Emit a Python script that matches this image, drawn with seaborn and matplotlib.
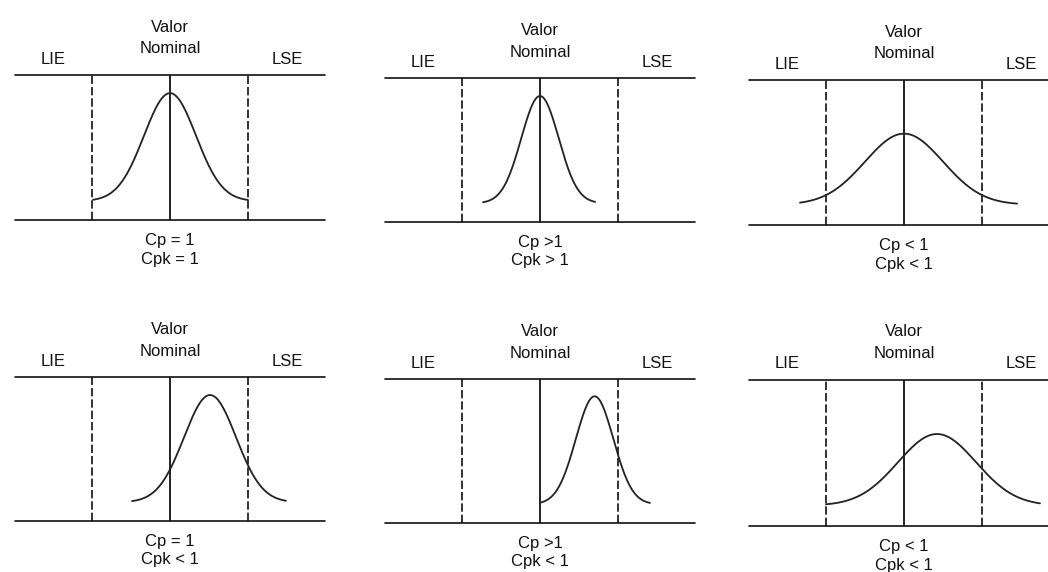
import numpy as np
import matplotlib.pyplot as plt
import seaborn as sns

# -----------------------------
# Data (x in sigma-like units, nominal = 0, y: 0 = bottom line, 1 = top line)
# -----------------------------
cp_labels = ["Cp = 1", "Cp >1", "Cp < 1", "Cp = 1", "Cp >1", "Cp < 1"]
cpk_labels = ["Cpk = 1", "Cpk > 1", "Cpk < 1", "Cpk < 1", "Cpk < 1", "Cpk < 1"]
means = [0.0, 0.0, 0.0, 1.54, 2.1, 1.27]
sigmas = [1.0, 0.72, 1.5, 1.0, 0.72, 1.5]
peaks = [0.875, 0.875, 0.63, 0.875, 0.88, 0.63]
tails = [0.13, 0.13, 0.14, 0.13, 0.13, 0.14]
curve_start = [-2.96, -2.19, -4.0, -1.46, 0.0, -3.0]
curve_end = [3.0, 2.12, 4.35, 4.46, 4.23, 5.23]
lie, lse, nominal = -3.0, 3.0, 0.0

# -----------------------------
# Layout (pixels on a 1048 x 572 canvas)
# -----------------------------
W, H = 1048, 572
nominal_px = [170, 540, 904, 170, 540, 904]
top_px = [75, 78, 80, 377, 379, 380]
bottom_px = [220, 222, 225, 521, 523, 526]
px_per_unit = 26
half_w = 5.95

sns.set_style("white")
plt.rcParams['font.family'] = ['Liberation Sans', 'DejaVu Sans']

fig = plt.figure(figsize=(W / 100, H / 100), dpi=100)

for i in range(6):
    left = nominal_px[i] - half_w * px_per_unit
    ax = fig.add_axes([left / W, (H - bottom_px[i]) / H,
                       2 * half_w * px_per_unit / W,
                       (bottom_px[i] - top_px[i]) / H])
    ax.set_xlim(-half_w, half_w)
    ax.set_ylim(0, 1)
    ax.axis('off')

    # frame lines
    ax.axhline(0, color='#111111', lw=1.2, clip_on=False)
    ax.axhline(1, color='#111111', lw=1.2, clip_on=False)
    ax.axvline(nominal, color='#111111', lw=1.3)
    ax.axvline(lie, color='#111111', lw=1.2, ls=(0, (5, 1.8)))
    ax.axvline(lse, color='#111111', lw=1.2, ls=(0, (5, 1.8)))

    # normal curve
    xs = np.linspace(curve_start[i], curve_end[i], 200)
    ys = tails[i] + (peaks[i] - tails[i]) * np.exp(-(xs - means[i]) ** 2 / (2 * sigmas[i] ** 2))
    sns.lineplot(x=xs, y=ys, ax=ax, color='#222222', lw=1.3)

    # labels
    kw = dict(ha='center', va='center', fontsize=12, color='#111111', clip_on=False)
    ax.text(nominal, 1.33, "Valor", **kw)
    ax.text(nominal, 1.18, "Nominal", **kw)
    ax.text(-4.5, 1.11, "LIE", **kw)
    ax.text(4.5, 1.11, "LSE", **kw)
    ax.text(nominal, -0.14, cp_labels[i], **kw)
    ax.text(nominal, -0.27, cpk_labels[i], **kw)

fig.savefig("out.png", dpi=100, facecolor='white')
